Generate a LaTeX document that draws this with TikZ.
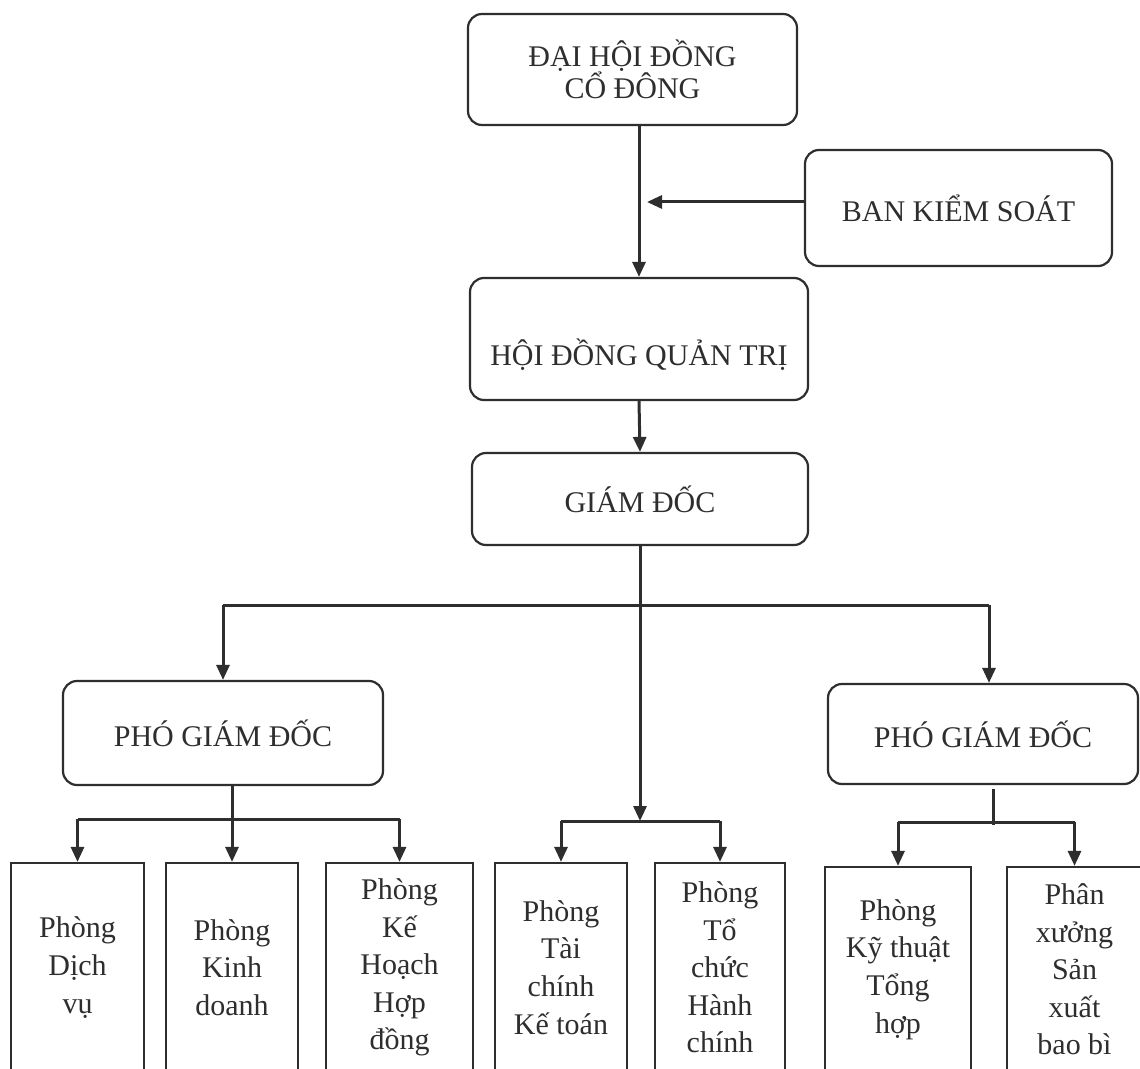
\documentclass[tikz,border=0pt]{standalone}
\usepackage{fontspec}
\setmainfont{Liberation Serif}
\usetikzlibrary{arrows.meta,calc}
\definecolor{inkc}{HTML}{2E2E2E}
\begin{document}
\begin{tikzpicture}[x=0.5pt,y=-0.5pt,
  ink/.style={draw=inkc, line width=1.1pt},
  txt/.style={text=inkc, font=\fontsize{15}{16}\selectfont, align=center},
  rbox/.style={ink, txt, rounded corners=7pt, inner sep=0pt},
  sbox/.style={ink, text=inkc, inner sep=0pt, align=center, font=\fontsize{15}{18.8}\selectfont},
  conn/.style={draw=inkc, line width=1.5pt},
  arr/.style={conn, -{Triangle[length=7.5pt,width=6.5pt]}}]
\useasboundingbox[fill=white] (0,0) rectangle (1140,1069);

% upper boxes
\node[rbox, minimum width=164.5pt, minimum height=55.5pt] (dhd) at (632.5,69.5) {ĐẠI HỘI ĐỒNG\\CỔ ĐÔNG};
\node[rbox, minimum width=153.5pt, minimum height=58pt] (bks) at (958.5,208) {BAN KIỂM SOÁT};
\node[rbox, minimum width=169pt, minimum height=61pt] (hdqt) at (639,339) {};
\node[txt] (hdqtt) at (639,355) {HỘI ĐỒNG QUẢN TRỊ};
\node[rbox, minimum width=168pt, minimum height=46pt] (gd) at (640,499) {GIÁM ĐỐC};
\node[rbox, minimum width=160pt, minimum height=52pt] (pgd1) at (223,733) {PHÓ GIÁM ĐỐC};
\node[rbox, minimum width=155pt, minimum height=50pt] (pgd2) at (983,734) {PHÓ GIÁM ĐỐC};

% bottom boxes
\node[sbox, minimum width=66.5pt, minimum height=104.5pt] (d1) at (77.5,967.5) {Phòng\\Dịch\\vụ};
\node[sbox, minimum width=66pt, minimum height=104.5pt] (d2) at (232,967.5) {Phòng\\Kinh\\doanh};
\node[sbox, minimum width=73.5pt, minimum height=104.5pt] (d3) at (399.5,967.5) {Phòng\\Kế\\Hoạch\\Hợp\\đồng};
\node[sbox, minimum width=66pt, minimum height=104.5pt] (d4) at (561,967.5) {Phòng\\Tài\\chính\\Kế toán};
\node[sbox, minimum width=65pt, minimum height=104.5pt] (d5) at (720,967.5) {Phòng\\Tổ\\chức\\Hành\\chính};
\node[sbox, minimum width=73pt, minimum height=102.5pt] (d6) at (898,969.5) {Phòng\\Kỹ thuật\\Tổng\\hợp};
\node[sbox, minimum width=67.5pt, minimum height=102.5pt] (d7) at (1074.5,969.5) {Phân\\xưởng\\Sản\\xuất\\bao bì};

% coordinates
\coordinate (b1) at (640,605);
\coordinate (b2) at (235,819);
\coordinate (h4) at (640,821);
\coordinate (s6) at (993,789);
\coordinate (s6e) at (993,825);
\coordinate (h6) at (993,822);

% connectors
\draw[arr] (hdqt.north |- dhd.south) -- (hdqt.north);
\draw[arr] ([yshift=3pt]bks.west) -- ([xshift=4pt,yshift=3pt]hdqt.north |- bks.west);
\draw[arr] (hdqt.south) -- (gd.north);
\draw[arr] (gd.south) -- (h4);
\draw[conn] (pgd1.north |- b1) -- ([xshift=3pt]pgd2.north |- b1);
\draw[arr] (pgd1.north |- b1) -- (pgd1.north);
\draw[arr] ([xshift=3pt]pgd2.north |- b1) -- ([xshift=3pt]pgd2.north);

\draw[arr] (d2.north |- pgd1.south) -- (d2.north);
\draw[conn] (d1.north |- b2) -- (d3.north |- b2);
\draw[arr] (d1.north |- b2) -- (d1.north);
\draw[arr] (d3.north |- b2) -- (d3.north);

\draw[conn] (d4.north |- h4) -- (d5.north |- h4);
\draw[arr] (d4.north |- h4) -- (d4.north);
\draw[arr] (d5.north |- h4) -- (d5.north);

\draw[conn] (s6) -- (s6e);
\draw[conn] (d6.north |- h6) -- (d7.north |- h6);
\draw[arr] (d6.north |- h6) -- (d6.north);
\draw[arr] (d7.north |- h6) -- (d7.north);
\end{tikzpicture}
\end{document}
